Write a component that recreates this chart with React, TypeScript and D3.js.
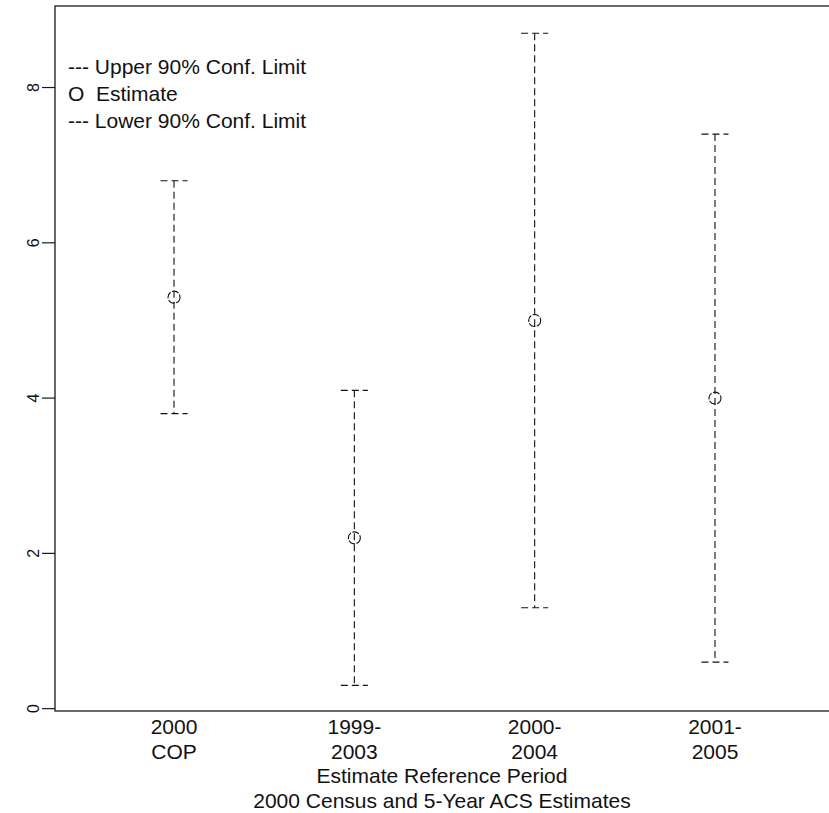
import React from "react";
import * as d3 from "d3";

const categories: string[][] = [
  ["2000", "COP"],
  ["1999-", "2003"],
  ["2000-", "2004"],
  ["2001-", "2005"],
];
const estimates: number[] = [5.3, 2.2, 5.0, 4.0];
const upperLimits: number[] = [6.8, 4.1, 8.7, 7.4];
const lowerLimits: number[] = [3.8, 0.3, 1.3, 0.6];
const yTicks: number[] = [0, 2, 4, 6, 8];
const legendLines: string[] = [
  "--- Upper 90% Conf. Limit",
  "O  Estimate",
  "--- Lower 90% Conf. Limit",
];
const xTitleLines: string[] = [
  "Estimate Reference Period",
  "2000 Census and 5-Year ACS Estimates",
];

const W = 829;
const H = 813;
const FONT = "'Liberation Sans', Arial, Helvetica, sans-serif";

export default function App() {
  const x = d3.scaleLinear().domain([0.34, 4.66]).range([55, 834]);
  const y = d3.scaleLinear().domain([-0.03, 9.05]).range([711, 6]);
  const capHalf = 0.075;
  const ink = "#111";
  const dash = "7 4";

  return (
    <svg
      width={W}
      height={H}
      style={{ position: "fixed", left: 0, top: 0, background: "#fff" }}
      fontFamily={FONT}
    >
      <rect x={0} y={0} width={W} height={H} fill="#fff" />
      {/* frame */}
      <rect
        x={x(0.34)}
        y={y(9.05)}
        width={x(4.66) - x(0.34)}
        height={y(-0.03) - y(9.05)}
        fill="none"
        stroke="#1a1a1a"
        strokeWidth={1.3}
      />
      {/* y axis ticks */}
      {yTicks.map((t) => (
        <g key={t}>
          <line x1={42} x2={55} y1={y(t)} y2={y(t)} stroke="#1a1a1a" strokeWidth={1.2} />
          <text
            transform={`translate(38.5,${y(t)}) rotate(-90)`}
            textAnchor="middle"
            fontSize={16}
            fill={ink}
          >
            {t}
          </text>
        </g>
      ))}
      {/* error bars */}
      {estimates.map((e, i) => {
        const cx = x(i + 1);
        return (
          <g key={i}>
            <line
              x1={cx}
              x2={cx}
              y1={y(upperLimits[i])}
              y2={y(lowerLimits[i])}
              stroke={ink}
              strokeWidth={1.1}
              strokeDasharray={dash}
            />
            <line
              x1={x(i + 1 - capHalf)}
              x2={x(i + 1 + capHalf)}
              y1={y(upperLimits[i])}
              y2={y(upperLimits[i])}
              stroke={ink}
              strokeWidth={1.1}
              strokeDasharray={dash}
            />
            <line
              x1={x(i + 1 - capHalf)}
              x2={x(i + 1 + capHalf)}
              y1={y(lowerLimits[i])}
              y2={y(lowerLimits[i])}
              stroke={ink}
              strokeWidth={1.1}
              strokeDasharray={dash}
            />
            <circle
              cx={cx}
              cy={y(e)}
              r={6}
              fill="none"
              stroke={ink}
              strokeWidth={1.1}
              strokeDasharray="7 1.5"
            />
          </g>
        );
      })}
      {/* x category labels */}
      {categories.map((c, i) => (
        <text key={i} x={x(i + 1)} textAnchor="middle" fontSize={21} fill={ink}>
          <tspan x={x(i + 1)} y={734}>
            {c[0]}
          </tspan>
          <tspan x={x(i + 1)} y={758.5}>
            {c[1]}
          </tspan>
        </text>
      ))}
      {/* x title */}
      {xTitleLines.map((t, i) => (
        <text key={t} x={442} y={783 + i * 25} textAnchor="middle" fontSize={21} fill={ink}>
          {t}
        </text>
      ))}
      {/* legend */}
      {legendLines.map((t, i) => (
        <text
          key={t}
          x={68}
          y={74 + i * 27}
          fontSize={21}
          fill={ink}
          style={{ whiteSpace: "pre" }}
        >
          {t}
        </text>
      ))}
    </svg>
  );
}
